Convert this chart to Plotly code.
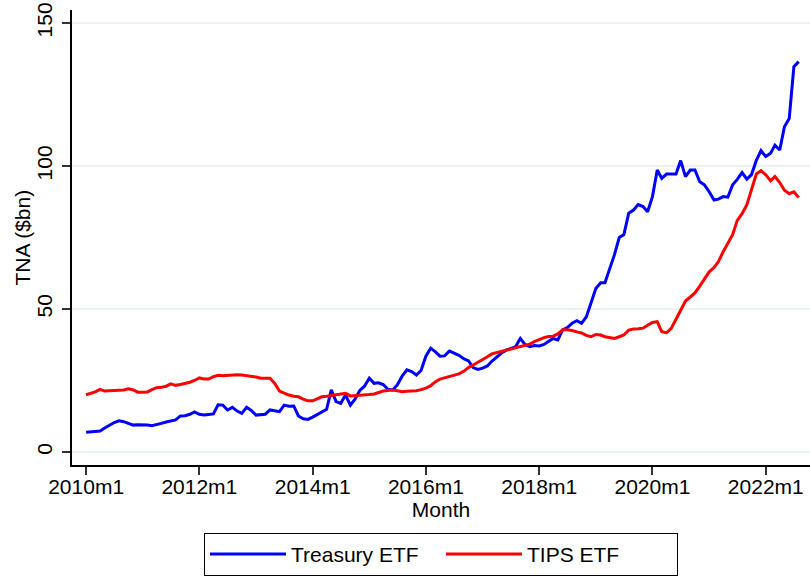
import pandas as pd
import plotly.graph_objects as go

# monthly TNA in $bn, 2010m1 .. 2022m8
months = pd.date_range("2010-01-01", periods=152, freq="MS")

treasury_etf = [
    6.9, 7.1, 7.2, 7.3, 8.4, 9.5, 10.3, 10.9, 10.6, 10.0, 9.4, 9.5,
    9.5, 9.4, 9.2, 9.5, 10.0, 10.5, 10.8, 11.2, 12.6, 12.7, 13.2, 14.0,
    13.2, 12.9, 13.1, 13.3, 16.5, 16.4, 14.7, 15.6, 14.3, 13.5, 15.6, 14.5,
    12.9, 13.0, 13.2, 14.7, 14.3, 14.1, 16.4, 16.0, 16.1, 12.6, 11.6, 11.4,
    12.2, 13.2, 14.2, 14.9, 21.7, 17.6, 17.0, 19.9, 16.4, 18.5, 21.5, 23.0,
    25.8, 24.0, 24.2, 23.6, 21.9, 21.7, 23.5, 26.5, 28.7, 28.1, 26.9, 28.5,
    33.5, 36.3, 35.1, 33.5, 33.6, 35.3, 34.6, 33.8, 32.6, 31.9, 29.5, 28.9,
    29.3, 30.1, 31.7, 33.2, 34.5, 35.6, 36.3, 36.8, 39.7, 37.6, 36.8, 37.2,
    37.1, 37.6, 38.6, 39.7, 39.2, 42.7, 43.5, 45.0, 45.9, 45.0, 47.3, 52.0,
    57.2, 59.2, 59.2, 64.2, 69.0, 75.0, 76.0, 83.5, 84.6, 86.5, 85.8, 84.0,
    89.3, 98.6, 95.7, 97.2, 97.2, 97.2, 101.9, 96.3, 98.6, 98.6, 94.5, 93.4,
    91.0, 88.1, 88.4, 89.3, 89.1, 93.4, 95.3, 97.7, 95.4, 97.0, 102.0, 105.4,
    103.3, 104.5, 107.3, 105.6, 113.7, 116.6, 134.7, 136.5,
]

tips_etf = [
    20.0, 20.5, 21.0, 21.9, 21.3, 21.4, 21.4, 21.6, 21.7, 22.1, 21.7, 20.9,
    20.9, 21.0, 21.8, 22.5, 22.6, 23.0, 23.8, 23.3, 23.6, 23.9, 24.4, 25.0,
    25.9, 25.5, 25.5, 26.3, 26.8, 26.7, 26.8, 27.0, 27.0, 26.9, 26.7, 26.5,
    26.2, 25.8, 25.8, 25.8, 24.0, 21.3, 20.6, 19.9, 19.5, 19.3, 18.5, 17.9,
    17.9, 18.6, 19.3, 19.5, 19.8, 20.0, 20.3, 20.5, 19.6, 19.7, 19.7, 19.9,
    20.1, 20.3, 20.8, 21.3, 21.5, 21.7, 21.4, 21.1, 21.2, 21.3, 21.4, 21.8,
    22.3, 23.2, 24.5, 25.5, 26.0, 26.4, 26.8, 27.3, 28.2, 29.5, 30.4, 31.3,
    32.2, 33.3, 34.3, 34.8, 35.3, 35.6, 36.0, 36.4, 36.8, 37.2, 37.7, 38.6,
    39.4, 40.0, 40.4, 40.5, 41.3, 42.7, 42.7, 42.5, 42.0, 41.6, 40.8, 40.3,
    41.1, 40.9, 40.3, 40.0, 39.7, 40.3, 40.9, 42.6, 43.0, 43.1, 43.3, 44.3,
    45.3, 45.6, 42.1, 41.7, 43.2, 46.4, 49.8, 52.8, 54.2, 55.6, 58.0, 60.5,
    63.0, 64.5, 66.5, 70.0, 73.0, 76.0, 81.0, 83.3, 86.5, 92.0, 97.2, 98.4,
    96.9, 94.8, 96.3, 94.2, 91.5, 90.3, 91.0, 89.0,
]

tick_dates = pd.date_range("2010-01-01", "2022-01-01", freq="24MS")
tick_text = [f"{d.year}m{d.month}" for d in tick_dates]
y_ticks = [0, 50, 100, 150]

FONT = "Liberation Sans, Arial"

fig = go.Figure()
fig.add_trace(go.Scatter(x=months, y=treasury_etf, mode="lines", name="Treasury ETF",
                         line=dict(color="#0000FF", width=3)))
fig.add_trace(go.Scatter(x=months, y=tips_etf, mode="lines", name="TIPS ETF",
                         line=dict(color="#FF0000", width=3)))

fig.update_layout(
    width=810, height=578,
    margin=dict(l=72, r=0, t=10, b=113),
    paper_bgcolor="white", plot_bgcolor="white",
    font=dict(family=FONT, size=21, color="black"),
    showlegend=True,
    legend=dict(orientation="h", x=0.5, xanchor="center", y=-0.149, yanchor="top",
                bordercolor="black", borderwidth=1, font=dict(size=21),
                itemwidth=76, entrywidth=145),
)
fig.update_xaxes(
    range=["2009-10-02", "2022-10-13"], automargin=False, ticklabeloverflow="allow",
    tickvals=tick_dates, ticktext=tick_text, ticklabelstandoff=-6,
    ticks="outside", ticklen=8, tickwidth=1.5, tickcolor="#333333",
    showline=True, linecolor="black", linewidth=1.5,
    showgrid=False, zeroline=False,
    title=dict(text="Month", standoff=4, font=dict(size=21)),
)
fig.update_yaxes(
    range=[-4.55, 154.55], automargin=False, ticklabeloverflow="allow",
    tickvals=y_ticks, tickangle=-90, ticklabelstandoff=2,
    ticks="outside", ticklen=8, tickwidth=1.5, tickcolor="#333333",
    showline=True, linecolor="black", linewidth=1.5,
    showgrid=True, gridcolor="#EAF2F3", gridwidth=1.5, zeroline=False,
)
# y title as an annotation so it sits where Stata puts it
fig.add_annotation(text="TNA ($bn)", textangle=-90, xref="paper", yref="paper",
                   x=0, y=0.5, xanchor="center", yanchor="middle", xshift=-50,
                   showarrow=False, font=dict(size=21))

# drop the page's default body margin so the figure fills the window
fig.write_html("out.html", config={"displayModeBar": False},
               post_script="document.body.style.margin = '0';")
